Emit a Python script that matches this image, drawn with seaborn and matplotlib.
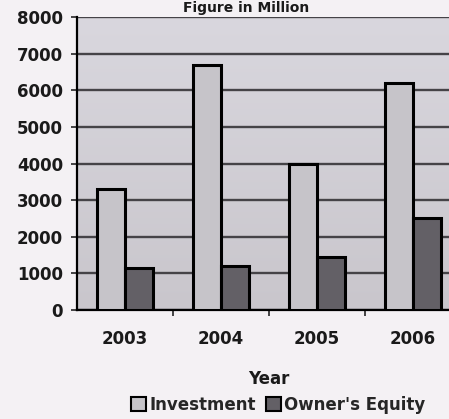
import matplotlib
matplotlib.use("Agg")
import matplotlib.pyplot as plt
import seaborn as sns
import pandas as pd
import numpy as np
from matplotlib.patches import Patch
from matplotlib.ticker import FixedLocator

years = ["2003", "2004", "2005", "2006"]
investment = [3300, 6700, 4000, 6200]
owners_equity = [1150, 1200, 1450, 2500]
series_names = ["Investment", "Owner's Equity"]
y_ticks = [0, 1000, 2000, 3000, 4000, 5000, 6000, 7000, 8000]

df = pd.DataFrame({
    "Year": years * 2,
    "Value": investment + owners_equity,
    "Series": [series_names[0]] * 4 + [series_names[1]] * 4,
})

sns.set_style("white")
plt.rcParams["font.family"] = ["DejaVu Sans"]

W, H = 449, 419
fig = plt.figure(figsize=(W / 100, H / 100), dpi=100, facecolor="#f4f1f4")
# plot area runs past the right edge of the figure
ax = fig.add_axes([77 / W, 1 - 310 / H, 384 / W, 293 / H])
ax.set_facecolor("#cfccd3")

# soft vertical shading of the plot background
grad = np.linspace(0, 1, 256).reshape(-1, 1)
ax.imshow(grad, extent=[-0.5, 3.5, 0, 8000], aspect="auto", origin="lower",
          cmap=matplotlib.colors.LinearSegmentedColormap.from_list(
              "bg", ["#c9c6cc", "#d9d7de"]), zorder=0)

palette = {"Investment": "#c6c4c9", "Owner's Equity": "#636066"}
sns.barplot(data=df, x="Year", y="Value", hue="Series", palette=palette,
            width=0.58, edgecolor="black", linewidth=2.2, saturation=1,
            ax=ax, legend=False, zorder=3)

ax.set_xlim(-0.5, 3.5)
ax.set_ylim(0, 8000)
ax.set_yticks(y_ticks)
ax.yaxis.grid(True, color="#454347", linewidth=1.7, zorder=1)
ax.set_axisbelow(True)
for s in ["top", "right"]:
    ax.spines[s].set_visible(False)
ax.spines["left"].set_color("black")
ax.spines["left"].set_linewidth(1.6)
ax.spines["bottom"].set_color("black")
ax.spines["bottom"].set_linewidth(1.6)

ax.tick_params(axis="y", which="major", left=True, length=4, width=1.2,
               labelsize=12, pad=6)
ax.tick_params(axis="x", which="major", bottom=False, labelsize=12, pad=11)
ax.xaxis.set_minor_locator(FixedLocator([0.5, 1.5, 2.5]))
ax.tick_params(axis="x", which="minor", bottom=True, length=4, width=1.2,
               direction="out")
for lbl in ax.get_yticklabels() + ax.get_xticklabels():
    lbl.set_fontweight("bold")
    lbl.set_color("#1a1a1a")

ax.set_ylabel("")
ax.set_xlabel("Year", fontsize=12, fontweight="bold", labelpad=16,
              color="#1a1a1a")

fig.text(246 / W, 1 - 8 / H, "Figure in Million", ha="center", va="center",
         fontsize=10, fontweight="bold", color="#1a1a1a")

handles = [Patch(facecolor=palette[n], edgecolor="black", linewidth=1.5)
           for n in series_names]
fig.legend(handles, series_names, loc="center", ncol=2,
           bbox_to_anchor=(278 / W, 1 - 405 / H), frameon=False,
           prop={"size": 12, "weight": "bold"}, handlelength=0.9,
           handleheight=0.9, handletextpad=0.2, columnspacing=0.6)

fig.savefig("out.png", dpi=100, facecolor=fig.get_facecolor())
